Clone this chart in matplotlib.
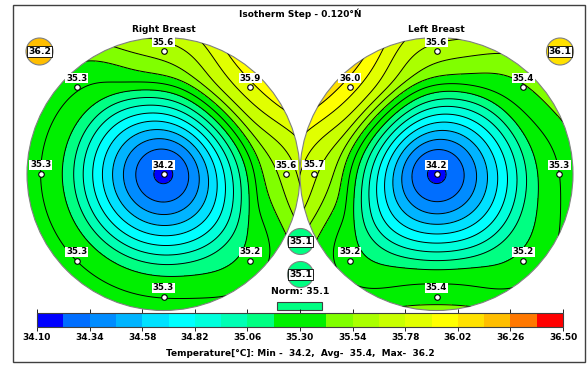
import numpy as np
import matplotlib
matplotlib.use("Agg")
import matplotlib.pyplot as plt
from matplotlib.colors import ListedColormap, BoundaryNorm
from matplotlib.patches import Circle, Rectangle
from matplotlib.cm import ScalarMappable

# --- data -------------------------------------------------------------
step = 0.12
t_min, t_max = 34.10, 36.50
bin_colors = ['#0000ff', '#006eff', '#008cff', '#00b4ff', '#00e1ff',
              '#00ffff', '#00ffdc', '#00ffb4', '#00ff82', '#00f000',
              '#00f000', '#80ff00', '#aaff00', '#c8ff00', '#e1ff00',
              '#ffff00', '#ffe100', '#ffbe00', '#ff7800', '#ff0000']

# sensor layout: angle in degrees (0 = right, 90 = top), radius as fraction
sensor_angle = [0, 90, 45, 0, -45, -90, -135, 180, 135]
sensor_rad = [0, 0.9, 0.9, 0.9, 0.9, 0.9, 0.9, 0.9, 0.9]

right_breast = [34.2, 35.6, 35.9, 35.6, 35.2, 35.3, 35.3, 35.3, 35.3]
left_breast = [34.2, 35.6, 35.4, 35.3, 35.2, 35.4, 35.2, 35.7, 36.0]

badge_right = 36.2
badge_left = 36.1
middle_vals = [35.1, 35.1]
norm_val = 35.1
stats = (34.2, 35.4, 36.2)

# --- layout (pixels) --------------------------------------------------
W, H = 587, 368
R = 136.5
cy = 174
centers = [163.5, 436.5]

levels = np.round(t_min + step * np.arange(21), 2)
cmap = ListedColormap(bin_colors)
norm = BoundaryNorm(levels, cmap.N)
FS = 6.2


def temp_field(ux, uy, vals, gx, gy, sigma=0.42, r1=0.79, a=0.25):
    # smooth blend of the ring sensors, rising from the centre sensor
    num = np.zeros_like(gx)
    den = np.zeros_like(gx)
    for x0, y0, v in zip(ux[1:], uy[1:], vals[1:]):
        w = np.exp(-((gx - x0) ** 2 + (gy - y0) ** 2) / sigma ** 2)
        num += w * v
        den += w
    ring = num / den
    r = np.hypot(gx, gy)
    q_lin = (np.sqrt(r ** 2 + a ** 2) - a) / (np.sqrt(r1 ** 2 + a ** 2) - a)
    q_out = 1 + 0.6 * (r - 0.9)
    k = 0.03
    q = -k * np.logaddexp(-q_lin / k, -q_out / k)
    return vals[0] + (ring - vals[0]) * q


fig = plt.figure(figsize=(W / 100, H / 100), dpi=100)
ax = fig.add_axes([0, 0, 1, 1])
ax.set_xlim(0, W)
ax.set_ylim(H, 0)
ax.axis('off')

ax.add_patch(Rectangle((13, 5), 572, 357, fill=False, ec='#404040', lw=1))

ax.text(300, 14, "Isotherm Step - 0.120°Ń", ha='center', va='center',
        fontsize=FS + 0.3, fontweight='bold')

names = ["Right Breast", "Left Breast"]
for cx, vals, name in zip(centers, [right_breast, left_breast], names):
    ang = np.radians(sensor_angle)
    rr = np.array(sensor_rad)
    ux = rr * np.cos(ang)
    uy = rr * np.sin(ang)
    g = np.linspace(-1.02, 1.02, 400)
    gx, gy = np.meshgrid(g, g)
    field = temp_field(ux, uy, vals, gx, gy)
    field = np.clip(field, t_min + 0.001, t_max - 0.001)
    X = cx + gx * R
    Y = cy - gy * R
    clip = Circle((cx, cy), R, transform=ax.transData, fc='none', ec='none')
    ax.add_patch(clip)
    cf = ax.contourf(X, Y, field, levels=levels, cmap=cmap, norm=norm)
    cf.set_clip_path(clip)
    cl = ax.contour(X, Y, field, levels=levels, colors='black', linewidths=0.7)
    cl.set_clip_path(clip)
    ax.add_patch(Circle((cx, cy), R, fill=False, ec='#808080', lw=0.8))
    ax.text(cx, 30, name, ha='center', va='center', fontsize=FS + 0.3,
            fontweight='bold')
    px = cx + ux * R
    py = cy - uy * R
    for xx, yy, v in zip(px, py, vals):
        ax.plot(xx, yy, 'o', ms=4, mfc='white', mec='black', mew=0.8)
        ax.text(xx, yy - 9, f"{v:.1f}", ha='center', va='center',
                fontsize=FS, fontweight='bold',
                bbox=dict(boxstyle='square,pad=0.08', fc='white', ec='none'))

# corner badges
for (bx, by), v in zip([(39.5, 51.5), (560, 51.5)], [badge_right, badge_left]):
    ax.add_patch(Circle((bx, by), 13.5, fc=cmap(norm(v)), ec='#808080', lw=0.8))
    ax.text(bx, by, f"{v:.1f}", ha='center', va='center', fontsize=FS + 0.5,
            fontweight='bold',
            bbox=dict(boxstyle='square,pad=0.08', fc='white', ec='black', lw=0.6))

# middle circles
for by, v in zip([241.5, 274.5], middle_vals):
    ax.add_patch(Circle((300.5, by), 13, fc=cmap(norm(v)), ec='#808080', lw=0.8))
    ax.text(300.5, by, f"{v:.1f}", ha='center', va='center', fontsize=FS + 0.5,
            fontweight='bold',
            bbox=dict(boxstyle='square,pad=0.08', fc='white', ec='black', lw=0.6))

ax.text(300, 292, f"Norm: {norm_val:.1f}", ha='center', va='center',
        fontsize=FS + 0.5, fontweight='bold')
ax.add_patch(Rectangle((277, 302), 45, 8, fc=cmap(norm(norm_val)), ec='#404040', lw=0.8))

# colorbar
cax = fig.add_axes([37 / W, (H - 327) / H, 526 / W, 14 / H])
sm = ScalarMappable(norm=norm, cmap=cmap)
cb = fig.colorbar(sm, cax=cax, orientation='horizontal', ticks=levels[::2])
cb.ax.set_xticklabels([f"{t:.2f}" for t in levels[::2]], fontsize=FS + 0.3,
                      fontweight='bold')
cb.ax.tick_params(axis='x', which='both', top=True, bottom=True, direction='out',
                  length=3, width=0.6, pad=1)
cb.ax.minorticks_off()
cb.outline.set_linewidth(0.8)
cb.outline.set_edgecolor('#404040')

ax.text(300, 353, "Temperature[°C]: Min -  %.1f,  Avg-  %.1f,  Max-  %.1f" % stats,
        ha='center', va='center', fontsize=FS + 0.3, fontweight='bold')

fig.savefig("out.png", dpi=100)
